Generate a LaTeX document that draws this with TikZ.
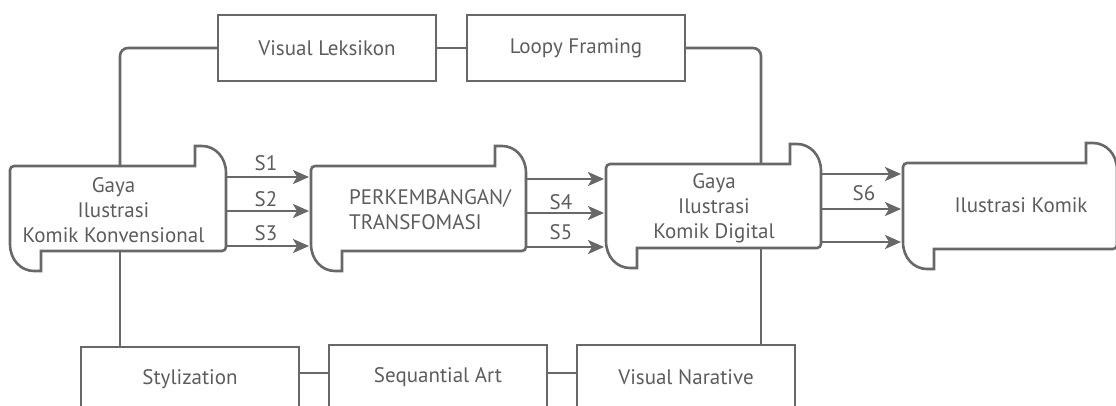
\documentclass[tikz,border=0pt]{standalone}
\usepackage{fontspec}
\setmainfont{PT Sans}
\usetikzlibrary{arrows.meta}
\definecolor{ln}{HTML}{686868}
\definecolor{tx}{HTML}{5c5c5c}
% outline of a box with a rounded tab at upper right and lower left
\newcommand\tabout[1]{%
  \draw[shapeline]
    ([shift={(0,-7)}]#1.south west)
    [rounded corners=4pt] -- (#1.north west) [sharp corners]
    -- ([shift={(-31,0)}]#1.north east)
    -- ([shift={(-31,-20)}]#1.north east)
    -- ([shift={(-24,-20)}]#1.north east)
    .. controls ([shift={(-11,-20)}]#1.north east) and ([shift={(0,-9)}]#1.north east) .. ([shift={(0,7)}]#1.north east)
    [rounded corners=4pt] -- (#1.south east) [sharp corners]
    -- ([shift={(31,0)}]#1.south west)
    -- ([shift={(31,20)}]#1.south west)
    -- ([shift={(24,20)}]#1.south west)
    .. controls ([shift={(11,20)}]#1.south west) and ([shift={(0,9)}]#1.south west) .. ([shift={(0,-7)}]#1.south west)
    -- cycle;}
\begin{document}
\begin{tikzpicture}[x=1pt,y=-1pt,
  shapeline/.style={draw=ln, line width=2.6pt, line join=miter},
  sz/.style 2 args={minimum width=#1pt, minimum height=#2pt},
  tabnode/.style={draw=none, inner sep=0pt, outer sep=0pt},
  plainbox/.style={draw=ln, line width=2.6pt, inner sep=0pt, outer sep=0pt, text=tx, font=\fontsize{21}{25}\selectfont},
  txt/.style={text=tx, font=\fontsize{21}{25}\selectfont, align=center, inner sep=0pt},
  slab/.style={text=tx, font=\fontsize{21}{22}\selectfont, inner sep=0pt},
  conn/.style={draw=ln, line width=2.6pt},
  arr/.style={draw=ln, line width=2.6pt, -{Stealth[length=16pt, width=14pt, inset=4pt]}}]
\clip (0,0) rectangle (1116,405);
% coordinates for vertical links
\coordinate (cxl) at (120,0);
\coordinate (cxr) at (761,0);
\coordinate (cyb) at (0,373);
% main tab boxes
\node[tabnode, sz={216}{85}] (b1) at (118,208.5) {};
\node[tabnode, sz={215}{85}] (b2) at (418.5,208.5) {};
\node[tabnode, sz={215}{84}] (b3) at (713.5,206) {};
\node[tabnode, sz={214}{86}] (b4) at (1010,206) {};
\tabout{b1}
\tabout{b2}
\tabout{b3}
\tabout{b4}
\node[txt] (t1) at (113.5,210) {Gaya\\Ilustrasi\\Komik Konvensional};
\node[txt, align=left] (t2) at (430,210) {PERKEMBANGAN/\\TRANSFOMASI};
\node[txt] (t3) at (714,208) {Gaya\\Ilustrasi\\Komik Digital};
\node[txt] (t4) at (1021,205) {Ilustrasi Komik};
% top boxes
\node[plainbox, sz={218}{66}] (v1) at (327,48) {Visual Leksikon};
\node[plainbox, sz={218}{66}] (v2) at (576,48) {Loopy Framing};
% bottom boxes
\node[plainbox, sz={218}{64}] (s1) at (190,379) {Stylization};
\node[plainbox, sz={218}{64}] (s2) at (438,377) {Sequantial Art};
\node[plainbox, sz={218}{64}] (s3) at (686,377) {Visual Narative};
% connectors top
\draw[conn, rounded corners=8pt] (v1.west) -| (b1.north -| cxl);
\draw[conn] (v1.east) -- (v2.west);
\draw[conn, rounded corners=8pt] (v2.east) -| (b3.north -| cxr);
% connectors bottom
\draw[conn] (b1.south -| cxl) -- (s1.north -| cxl);
\draw[conn] (b3.south -| cxr) -- (s3.north -| cxr);
\draw[conn] (s1.east |- cyb) -- (s2.west |- cyb);
\draw[conn] (s2.east |- cyb) -- (s3.west |- cyb);
% arrows b1 -> b2
\coordinate (ya1) at (0,177); \coordinate (ya2) at (0,211); \coordinate (ya3) at (0,246);
\draw[arr] (b1.east |- ya1) -- ([xshift=-2pt]b2.west |- ya1);
\draw[arr] (b1.east |- ya2) -- ([xshift=-2pt]b2.west |- ya2);
\draw[arr] (b1.east |- ya3) -- ([xshift=-2pt]b2.west |- ya3);
\node[slab] (l1) at (266,163) {S1};
\node[slab] (l2) at (266,199) {S2};
\node[slab] (l3) at (266,233) {S3};
% arrows b2 -> b3
\coordinate (yb1) at (0,179); \coordinate (yb2) at (0,213); \coordinate (yb3) at (0,247);
\draw[arr] (b2.east |- yb1) -- ([xshift=-2pt]b3.west |- yb1);
\draw[arr] (b2.east |- yb2) -- ([xshift=-2pt]b3.west |- yb2);
\draw[arr] (b2.east |- yb3) -- ([xshift=-2pt]b3.west |- yb3);
\node[slab] (l4) at (561,202) {S4};
\node[slab] (l5) at (561,232) {S5};
% arrows b3 -> b4
\coordinate (yc1) at (0,174); \coordinate (yc2) at (0,209); \coordinate (yc3) at (0,242);
\draw[arr] (b3.east |- yc1) -- ([xshift=-2pt]b4.west |- yc1);
\draw[arr] (b3.east |- yc2) -- ([xshift=-2pt]b4.west |- yc2);
\draw[arr] (b3.east |- yc3) -- ([xshift=-2pt]b4.west |- yc3);
\node[slab] (l6) at (864,193) {S6};
\end{tikzpicture}
\end{document}
